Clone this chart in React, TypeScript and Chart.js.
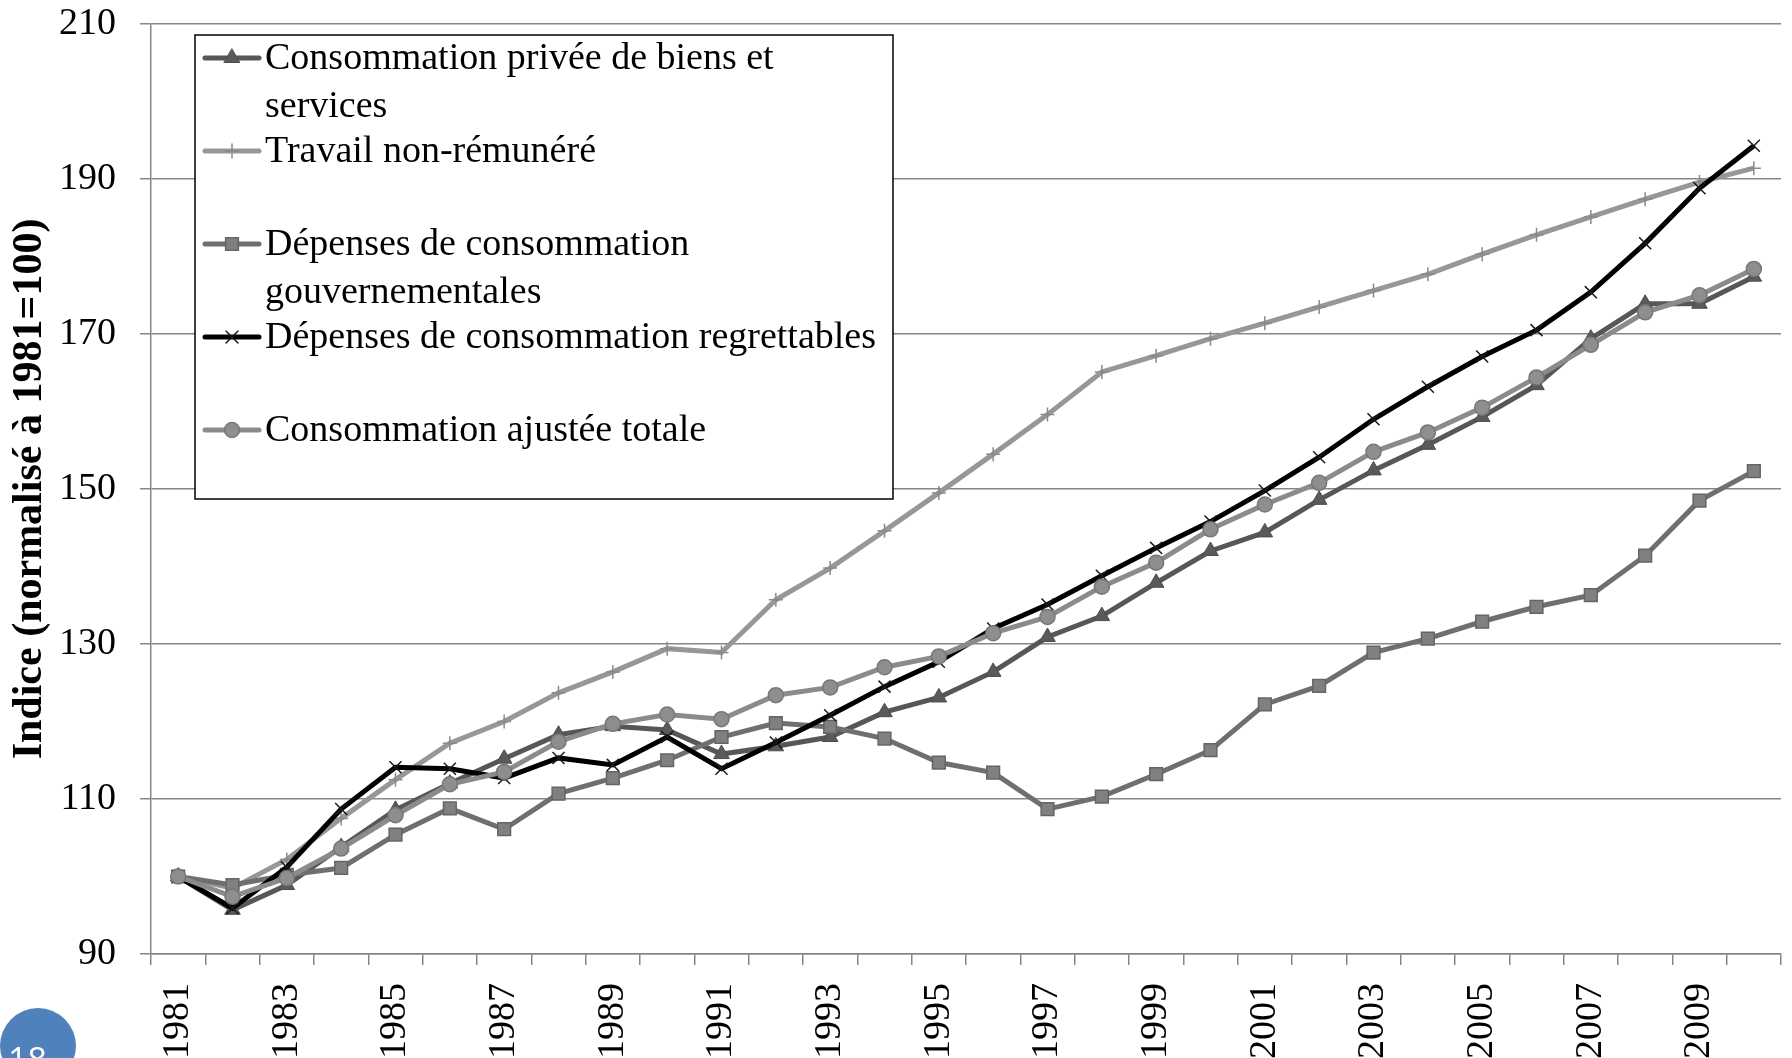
import React, { useEffect, useRef } from 'react';
import { Chart, registerables } from 'chart.js';
import { drawPoint } from 'chart.js/helpers';

Chart.register(...registerables);

const years = [
  '1981', '1982', '1983', '1984', '1985', '1986', '1987', '1988', '1989', '1990',
  '1991', '1992', '1993', '1994', '1995', '1996', '1997', '1998', '1999', '2000',
  '2001', '2002', '2003', '2004', '2005', '2006', '2007', '2008', '2009', '2010',
];

const seriesNames = [
  'Consommation privée de biens et services',
  'Travail non-rémunéré',
  'Dépenses de consommation gouvernementales',
  'Dépenses de consommation regrettables',
  'Consommation ajustée totale',
];

const privee = [100, 95.7, 98.9, 103.8, 108.6, 112.0, 115.2, 118.3, 119.4, 118.9, 115.8, 116.8, 118.0, 121.2, 123.1, 126.4, 130.9, 133.6, 137.9, 142.0, 144.4, 148.6, 152.4, 155.7, 159.3, 163.4, 169.4, 173.9, 173.9, 177.4];
const travail = [100, 98.5, 102.2, 107.5, 112.5, 117.2, 120.0, 123.7, 126.4, 129.4, 128.9, 135.7, 139.8, 144.6, 149.5, 154.5, 159.6, 165.1, 167.2, 169.4, 171.4, 173.5, 175.6, 177.7, 180.3, 182.8, 185.1, 187.4, 189.6, 191.4];
const gouvernementales = [100, 98.9, 100.2, 101.1, 105.4, 108.8, 106.1, 110.7, 112.7, 115.0, 118.0, 119.8, 119.3, 117.8, 114.7, 113.4, 108.7, 110.3, 113.2, 116.3, 122.2, 124.6, 128.9, 130.7, 132.9, 134.8, 136.3, 141.4, 148.5, 152.3];
const regrettables = [100, 95.9, 101.2, 108.7, 114.1, 113.9, 112.7, 115.3, 114.4, 118.0, 113.9, 117.3, 120.8, 124.5, 127.7, 132.0, 135.1, 138.8, 142.4, 145.8, 149.8, 154.1, 159.0, 163.2, 167.1, 170.5, 175.4, 181.7, 188.8, 194.3];
const ajustee = [100, 97.4, 99.8, 103.6, 107.9, 111.9, 113.5, 117.4, 119.7, 120.9, 120.3, 123.4, 124.4, 127.0, 128.4, 131.4, 133.5, 137.4, 140.5, 144.8, 148.0, 150.8, 154.8, 157.3, 160.5, 164.4, 168.6, 172.8, 175.0, 178.4];

const yTitle = 'Indice (normalisé à 1981=100)';
const yMin = 90;
const yMax = 210;
const yStep = 20;
const slideNumber = '18';

const FONT = '"Liberation Serif", "Times New Roman", serif';

function wrapText(ctx: CanvasRenderingContext2D, text: string, maxW: number): string[] {
  const words = text.split(' ');
  const lines: string[] = [];
  let cur = '';
  for (const w of words) {
    const test = cur ? cur + ' ' + w : w;
    if (ctx.measureText(test).width > maxW && cur) {
      lines.push(cur);
      cur = w;
    } else {
      cur = test;
    }
  }
  if (cur) lines.push(cur);
  return lines;
}

const boxLegend = {
  id: 'boxLegend',
  afterDraw(chart: any) {
    const c: CanvasRenderingContext2D = chart.ctx;
    const ca = chart.chartArea;
    const bx = ca.left + 44;
    const by = ca.top + 11;
    const bw = 698;
    const bh = 464;
    c.save();
    c.fillStyle = '#ffffff';
    c.fillRect(bx, by, bw, bh);
    c.strokeStyle = '#000000';
    c.lineWidth = 1.5;
    c.strokeRect(bx, by, bw, bh);
    c.font = `38px ${FONT}`;
    c.textBaseline = 'middle';
    c.textAlign = 'left';
    const textX = bx + 70;
    const maxW = bw - 70 - 6;
    chart.data.datasets.forEach((ds: any, i: number) => {
      const cy = by + 23 + 93 * i;
      c.save();
      c.strokeStyle = ds.borderColor;
      c.lineWidth = ds.borderWidth;
      c.lineCap = 'round';
      c.beginPath();
      c.moveTo(bx + 10, cy);
      c.lineTo(bx + 64, cy);
      c.stroke();
      c.fillStyle = ds.pointBackgroundColor;
      c.strokeStyle = ds.pointBorderColor;
      c.lineWidth = ds.pointBorderWidth;
      drawPoint(c, { pointStyle: ds.pointStyle, radius: ds.pointRadius, borderWidth: ds.pointBorderWidth, rotation: 0 } as any, bx + 37, cy);
      c.restore();
      c.fillStyle = '#000000';
      c.font = `38px ${FONT}`;
      const lines = wrapText(c, ds.label, maxW);
      lines.forEach((ln, k) => c.fillText(ln, textX, cy + 1 + k * 48.5));
    });
    c.restore();
  },
};

export default function App() {
  const ref = useRef<HTMLCanvasElement>(null);

  useEffect(() => {
    const prevMargin = document.body.style.margin;
    document.body.style.margin = '0';
    const canvas = ref.current;
    if (!canvas) return;

    const mk = (
      label: string,
      data: number[],
      line: string,
      width: number,
      style: string,
      radius: number,
      fill: string,
      border: string,
      bw: number,
      order: number,
    ) => ({
      label,
      data,
      borderColor: line,
      borderWidth: width,
      backgroundColor: fill,
      pointStyle: style,
      pointRadius: radius,
      pointBackgroundColor: fill,
      pointBorderColor: border,
      pointBorderWidth: bw,
      tension: 0,
      fill: false,
      order,
    });

    const chart = new Chart(canvas, {
      type: 'line',
      data: {
        labels: years,
        datasets: [
          mk(seriesNames[0], privee, '#575757', 5, 'triangle', 9, '#5a5a5a', '#4d4d4d', 1, 5),
          mk(seriesNames[1], travail, '#979797', 5, 'cross', 7, '#979797', '#8a8a8a', 1.5, 4),
          mk(seriesNames[2], gouvernementales, '#6f6f6f', 5, 'rect', 9, '#808080', '#656565', 1.5, 3),
          mk(seriesNames[3], regrettables, '#000000', 5, 'crossRot', 8.5, '#000000', '#1a1a1a', 1.5, 2),
          mk(seriesNames[4], ajustee, '#8b8b8b', 5, 'circle', 7.5, '#8e8e8e', '#777777', 1.5, 1),
        ] as any,
      },
      options: {
        responsive: false,
        animation: false,
        devicePixelRatio: 1,
        layout: { padding: { top: 24, right: 11, left: 0, bottom: 0 } },
        plugins: {
          legend: { display: false },
          tooltip: { enabled: false },
        },
        scales: {
          x: {
            type: 'category',
            offset: true,
            grid: {
              display: true,
              drawOnChartArea: false,
              drawTicks: true,
              tickLength: 11,
              color: '#878787',
              lineWidth: 1.5,
              offset: true,
            },
            border: { display: true, color: '#878787', width: 1.5 },
            ticks: {
              autoSkip: false,
              maxRotation: 90,
              minRotation: 90,
              padding: 18,
              color: '#000000',
              font: { family: FONT, size: 38 },
              callback: function (this: any, v: any, i: number) {
                return i % 2 === 0 ? this.getLabelForValue(v) : '';
              },
            },
            afterFit: (s: any) => {
              s.height = 104;
              s.paddingLeft = 0;
              s.paddingRight = 0;
            },
          },
          y: {
            min: yMin,
            max: yMax,
            ticks: {
              stepSize: yStep,
              padding: 24,
              color: '#000000',
              font: { family: FONT, size: 38 },
            },
            grid: { color: '#878787', lineWidth: 1.5, tickLength: 11 },
            border: { display: true, color: '#878787', width: 1.5 },
            title: {
              display: true,
              text: yTitle,
              color: '#000000',
              font: { family: FONT, size: 42, weight: 'bold' },
              padding: { top: 5, bottom: 4 },
            },
            afterFit: (s: any) => {
              s.width = 151;
              s.paddingTop = 0;
              s.paddingBottom = 0;
            },
          },
        },
      } as any,
      plugins: [boxLegend],
    });

    return () => {
      chart.destroy();
      document.body.style.margin = prevMargin;
    };
  }, []);

  return (
    <div style={{ position: 'fixed', left: 0, top: 0, width: 1792, height: 1058, overflow: 'hidden', background: '#ffffff' }}>
      <canvas ref={ref} width={1792} height={1058} style={{ position: 'absolute', left: 0, top: 0, width: 1792, height: 1058 }} />
      <div
        style={{
          position: 'absolute',
          left: 0,
          top: 1008,
          width: 76,
          height: 76,
          borderRadius: '50%',
          background: '#4f81bd',
          color: '#ffffff',
          fontFamily: '"Open Sans", "Noto Sans", sans-serif',
          fontSize: 34,
          lineHeight: '34px',
          overflow: 'hidden',
        }}
      >
        <span style={{ position: 'absolute', left: 8, top: 34 }}>{slideNumber}</span>
      </div>
    </div>
  );
}
